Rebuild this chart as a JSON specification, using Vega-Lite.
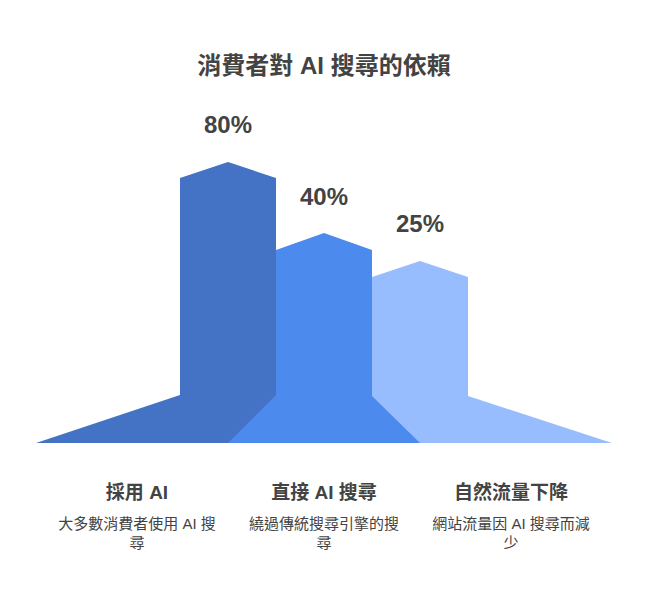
{
  "$schema": "https://vega.github.io/schema/vega-lite/v6.json",
  "width": 648,
  "height": 612,
  "autosize": {"type": "fit", "contains": "padding"},
  "padding": 0,
  "background": "#ffffff",
  "config": {"view": {"stroke": null}},
  "datasets": {
    "shapes": [
      {"series": "採用 AI", "px": 36, "top": 0},
      {"series": "採用 AI", "px": 180, "top": 48},
      {"series": "採用 AI", "px": 180, "top": 265},
      {"series": "採用 AI", "px": 228, "top": 281},
      {"series": "採用 AI", "px": 276, "top": 265},
      {"series": "採用 AI", "px": 276, "top": 48},
      {"series": "採用 AI", "px": 420, "top": 0},
      {"series": "直接 AI 搜尋", "px": 228, "top": 0},
      {"series": "直接 AI 搜尋", "px": 276, "top": 48},
      {"series": "直接 AI 搜尋", "px": 276, "top": 193},
      {"series": "直接 AI 搜尋", "px": 324, "top": 210},
      {"series": "直接 AI 搜尋", "px": 372, "top": 193},
      {"series": "直接 AI 搜尋", "px": 372, "top": 47},
      {"series": "直接 AI 搜尋", "px": 420, "top": 0},
      {"series": "自然流量下降", "px": 228, "top": 0},
      {"series": "自然流量下降", "px": 372, "top": 47},
      {"series": "自然流量下降", "px": 372, "top": 166},
      {"series": "自然流量下降", "px": 420, "top": 182},
      {"series": "自然流量下降", "px": 468, "top": 166},
      {"series": "自然流量下降", "px": 468, "top": 47},
      {"series": "自然流量下降", "px": 612, "top": 0}
    ],
    "labels": [
      {"series": "採用 AI", "value": "80%", "px": 228, "peak": 317, "desc": ["大多數消費者使用 AI 搜", "尋"], "cx": 137},
      {"series": "直接 AI 搜尋", "value": "40%", "px": 324, "peak": 245, "desc": ["繞過傳統搜尋引擎的搜", "尋"], "cx": 324},
      {"series": "自然流量下降", "value": "25%", "px": 420, "peak": 218, "desc": ["網站流量因 AI 搜尋而減", "少"], "cx": 511}
    ],
    "title": [{"text": "消費者對 AI 搜尋的依賴", "px": 324, "py": 376}]
  },
  "layer": [
    {
      "data": {"name": "shapes"},
      "transform": [{"filter": "datum.series === '採用 AI'"}],
      "mark": {"type": "area", "color": "#4472C4"},
      "encoding": {
        "x": {"field": "px", "type": "quantitative", "scale": {"domain": [0, 648], "nice": false, "zero": false}, "axis": null},
        "y": {"field": "top", "type": "quantitative", "stack": null, "scale": {"domain": [-169, 443], "nice": false, "zero": false}, "axis": null}
      }
    },
    {
      "data": {"name": "shapes"},
      "transform": [{"filter": "datum.series === '自然流量下降'"}],
      "mark": {"type": "area", "color": "#98BDFE"},
      "encoding": {
        "x": {"field": "px", "type": "quantitative"},
        "y": {"field": "top", "type": "quantitative", "stack": null}
      }
    },
    {
      "data": {"name": "shapes"},
      "transform": [{"filter": "datum.series === '直接 AI 搜尋'"}],
      "mark": {"type": "area", "color": "#4D8AEE"},
      "encoding": {
        "x": {"field": "px", "type": "quantitative"},
        "y": {"field": "top", "type": "quantitative", "stack": null}
      }
    },
    {
      "data": {"name": "title"},
      "mark": {"type": "text", "font": "Liberation Sans, Noto Sans CJK TC, sans-serif", "fontSize": 24, "fontWeight": "bold", "color": "#434343", "baseline": "middle", "align": "center"},
      "encoding": {
        "x": {"field": "px", "type": "quantitative"},
        "y": {"field": "py", "type": "quantitative"},
        "text": {"field": "text"}
      }
    },
    {
      "data": {"name": "labels"},
      "mark": {"type": "text", "font": "Liberation Sans, Noto Sans CJK TC, sans-serif", "fontSize": 24, "fontWeight": "bold", "color": "#434343", "baseline": "middle", "align": "center"},
      "encoding": {
        "x": {"field": "px", "type": "quantitative"},
        "y": {"field": "peak", "type": "quantitative"},
        "text": {"field": "value"}
      }
    },
    {
      "data": {"name": "labels"},
      "mark": {"type": "text", "font": "Liberation Sans, Noto Sans CJK TC, sans-serif", "fontSize": 19, "fontWeight": "bold", "color": "#434343", "baseline": "middle", "align": "center"},
      "encoding": {
        "x": {"field": "cx", "type": "quantitative"},
        "y": {"datum": -50, "type": "quantitative"},
        "text": {"field": "series"}
      }
    },
    {
      "data": {"name": "labels"},
      "mark": {"type": "text", "font": "Liberation Sans, Noto Sans CJK TC, sans-serif", "fontSize": 15, "color": "#434343", "baseline": "middle", "align": "center", "lineHeight": 19},
      "encoding": {
        "x": {"field": "cx", "type": "quantitative"},
        "y": {"datum": -81, "type": "quantitative"},
        "text": {"field": "desc"}
      }
    }
  ]
}
